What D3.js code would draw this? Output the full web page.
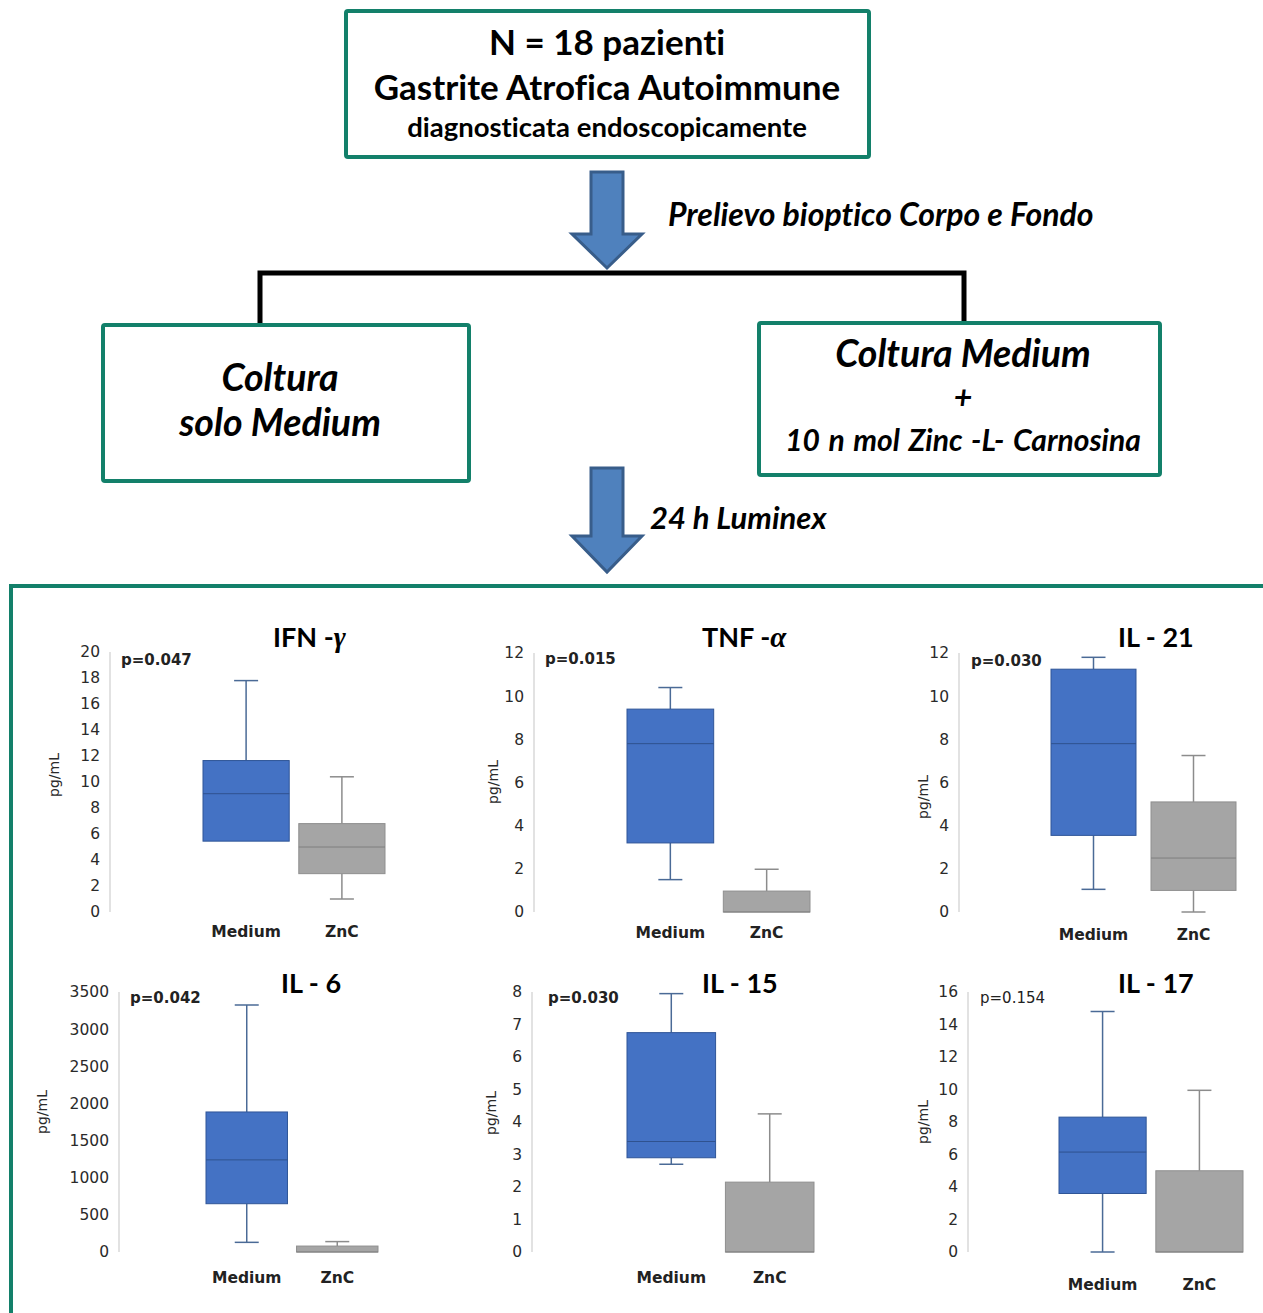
<!DOCTYPE html>
<html>
<head>
<meta charset="utf-8">
<script src="https://cdn.jsdelivr.net/npm/d3@7"></script>
<style>
  body { margin: 0; background: #fff; }
  svg { display: block; }
  text { font-variant-ligatures: none; font-feature-settings: "liga" 0, "clig" 0; }
</style>
</head>
<body>
<svg id="chart"></svg>
<script>
// Dati dei sei box plot
const titles = ["IFN -", "TNF -", "IL - 21", "IL - 6", "IL - 15", "IL - 17"];
const titleGreek = ["γ", "α", "", "", "", ""];
const pValues = ["p=0.047", "p=0.015", "p=0.030", "p=0.042", "p=0.030", "p=0.154"];
const pBold = [true, true, true, true, true, false];
const categories = ["Medium", "ZnC"];
const yMax = [20, 12, 12, 3500, 8, 16];
const yStep = [2, 2, 2, 500, 1, 2];
// [min, q1, mediana, q3, max]
const mediumStats = [
  [5.45, 5.45, 9.1, 11.65, 17.8],
  [1.5, 3.2, 7.8, 9.4, 10.4],
  [1.05, 3.55, 7.8, 11.25, 11.8],
  [130, 650, 1240, 1885, 3325],
  [2.7, 2.9, 3.4, 6.75, 7.95],
  [0, 3.6, 6.15, 8.3, 14.8]
];
const zncStats = [
  [1.0, 2.95, 5.0, 6.8, 10.4],
  [0, 0, 0, 0.97, 1.98],
  [0, 1.0, 2.5, 5.1, 7.25],
  [0, 0, 0, 80, 140],
  [0, 0, 0, 2.15, 4.25],
  [0, 0, 0, 5.0, 9.95]
];

// Posizione di ogni pannello nella pagina
const panels = [
  {ax: 110, y0: 912, y1: 652, bx: [203, 385], pad: 0.1, tx: 273, ty: 647, px: 121, py: 665, lx: 59, ly: 775, cy: 937},
  {ax: 534, y0: 912, y1: 653, bx: [627, 810], pad: 0.1, tx: 702, ty: 647, px: 545, py: 664, lx: 498, ly: 782, cy: 938},
  {ax: 959, y0: 912, y1: 653, bx: [1051, 1236], pad: 0.15, tx: 1118, ty: 647, px: 971, py: 666, lx: 928, ly: 797, cy: 940},
  {ax: 119, y0: 1252, y1: 992, bx: [206, 378], pad: 0.1, tx: 281, ty: 993, px: 130, py: 1003, lx: 47, ly: 1112, cy: 1283},
  {ax: 532, y0: 1252, y1: 992, bx: [627, 814], pad: 0.1, tx: 702, ty: 993, px: 548, py: 1003, lx: 496, ly: 1113, cy: 1283},
  {ax: 968, y0: 1252, y1: 992, bx: [1059, 1243], pad: 0.1, tx: 1118, ty: 993, px: 980, py: 1003, lx: 928, ly: 1122, cy: 1290}
];

const green = "#13806a";
const boxColors = {
  Medium: {fill: "#4472c4", stroke: "#2f5597", whisker: "#4a6a96", median: "#2f528f"},
  ZnC: {fill: "#a5a5a5", stroke: "#8f8f8f", whisker: "#8c8c8c", median: "#7f7f7f"}
};

const svg = d3.select("#chart")
  .attr("width", 1263)
  .attr("height", 1313);

const calibri = "Lato, 'Open Sans', sans-serif";

// ---- Diagramma di flusso ----
function greenBox(x, y, w, h) {
  svg.append("rect")
    .attr("x", x).attr("y", y).attr("width", w).attr("height", h)
    .attr("rx", 2)
    .attr("fill", "#fff")
    .attr("stroke", green)
    .attr("stroke-width", 4);
}

function label(x, y, txt, size, italic, wordSp) {
  svg.append("text")
    .attr("x", x).attr("y", y)
    .attr("text-anchor", "middle")
    .attr("font-family", calibri)
    .attr("font-weight", "bold")
    .attr("font-style", italic ? "italic" : "normal")
    .attr("font-size", size)
    .attr("word-spacing", wordSp || 0)
    .attr("fill", "#000")
    .text(txt);
}

function arrow(top, headY, tip) {
  const cx = 607;
  const pts = [[cx - 16, top], [cx + 16, top], [cx + 16, headY], [cx + 35, headY],
               [cx, tip], [cx - 35, headY], [cx - 16, headY]];
  svg.append("path")
    .attr("d", d3.line()(pts) + "Z")
    .attr("fill", "#4f81bd")
    .attr("stroke", "#385d8a")
    .attr("stroke-width", 3)
    .attr("stroke-linejoin", "miter");
}

greenBox(346, 11, 523, 146);
label(607, 55, "N = 18 pazienti", 35, false);
label(607, 100, "Gastrite Atrofica Autoimmune", 35, false);
label(607, 137, "diagnosticata endoscopicamente", 27.5, false);

arrow(172, 234, 268);
svg.append("text")
  .attr("x", 668).attr("y", 226)
  .attr("font-family", calibri).attr("font-weight", "bold").attr("font-style", "italic")
  .attr("font-size", 32)
  .text("Prelievo bioptico Corpo e Fondo");

// staffa nera
svg.append("path")
  .attr("d", "M260,325 V273 H964 V323")
  .attr("fill", "none")
  .attr("stroke", "#000")
  .attr("stroke-width", 5)
  .attr("stroke-linejoin", "miter");

greenBox(103, 325, 366, 156);
label(280, 391, "Coltura", 37.5, true);
label(280, 436, "solo Medium", 37.5, true);

greenBox(759, 323, 401, 152);
label(963, 367, "Coltura Medium", 37.5, true);
label(963, 409, "+", 32, true);
label(963, 451, "10 n mol Zinc -L- Carnosina", 30, true, 2);

arrow(468, 536, 572);
svg.append("text")
  .attr("x", 650).attr("y", 529)
  .attr("font-family", calibri).attr("font-weight", "bold").attr("font-style", "italic")
  .attr("font-size", 31)
  .text("24 h Luminex");

// riquadro grande dei grafici
svg.append("rect")
  .attr("x", 11).attr("y", 586).attr("width", 1300).attr("height", 800)
  .attr("fill", "none")
  .attr("stroke", green)
  .attr("stroke-width", 4);

// ---- Box plot ----
panels.forEach((p, i) => {
  const g = svg.append("g");

  const y = d3.scaleLinear().domain([0, yMax[i]]).range([p.y0, p.y1]);
  const x = d3.scaleBand().domain(categories).range(p.bx).paddingInner(p.pad);

  // linea dell'asse
  g.append("line")
    .attr("x1", p.ax).attr("x2", p.ax)
    .attr("y1", p.y0).attr("y2", p.y1)
    .attr("stroke", "#d9d9d9").attr("stroke-width", 1.5);

  const axis = g.append("g")
    .attr("transform", `translate(${p.ax},0)`)
    .call(d3.axisLeft(y).tickValues(d3.range(0, yMax[i] + yStep[i] / 2, yStep[i]))
      .tickSize(0).tickPadding(10).tickFormat(d3.format("d")));
  axis.select(".domain").remove();
  axis.selectAll("text")
    .attr("font-family", "'DejaVu Sans', sans-serif")
    .attr("font-size", 15.5)
    .attr("fill", "#2a2a2a");

  // titolo unità
  g.append("text")
    .attr("transform", `translate(${p.lx},${p.ly}) rotate(-90)`)
    .attr("text-anchor", "middle")
    .attr("font-family", "'DejaVu Sans', sans-serif")
    .attr("font-size", 14)
    .attr("fill", "#2a2a2a")
    .text("pg/mL");

  // titolo del grafico
  const t = g.append("text")
    .attr("x", p.tx).attr("y", p.ty)
    .attr("font-family", calibri)
    .attr("font-weight", "bold")
    .attr("font-size", 27)
    .attr("fill", "#000")
    .text(titles[i]);
  if (titleGreek[i]) {
    t.append("tspan")
      .attr("font-family", "'Liberation Serif', serif")
      .attr("font-style", "italic")
      .attr("font-size", 29)
      .text(titleGreek[i]);
  }

  // p-value
  g.append("text")
    .attr("x", p.px).attr("y", p.py)
    .attr("font-family", "'DejaVu Sans', sans-serif")
    .attr("font-weight", pBold[i] ? "bold" : "normal")
    .attr("font-size", 15)
    .attr("fill", "#222")
    .text(pValues[i]);

  const stats = {Medium: mediumStats[i], ZnC: zncStats[i]};

  categories.forEach(cat => {
    const [mn, q1, med, q3, mx] = stats[cat];
    const c = boxColors[cat];
    const cx = x(cat) + x.bandwidth() / 2;

    // baffi
    [[q3, mx], [q1, mn]].forEach(([from, to]) => {
      if (from === to) return;
      g.append("line")
        .attr("x1", cx).attr("x2", cx)
        .attr("y1", y(from)).attr("y2", y(to))
        .attr("stroke", c.whisker).attr("stroke-width", 1.5);
      g.append("line")
        .attr("x1", cx - 12).attr("x2", cx + 12)
        .attr("y1", y(to)).attr("y2", y(to))
        .attr("stroke", c.whisker).attr("stroke-width", 1.5);
    });

    // scatola
    g.append("rect")
      .attr("x", x(cat))
      .attr("y", y(q3))
      .attr("width", x.bandwidth())
      .attr("height", y(q1) - y(q3))
      .attr("fill", c.fill)
      .attr("stroke", c.stroke)
      .attr("stroke-width", 1);

    // mediana
    g.append("line")
      .attr("x1", x(cat)).attr("x2", x(cat) + x.bandwidth())
      .attr("y1", y(med)).attr("y2", y(med))
      .attr("stroke", c.median).attr("stroke-width", 1);

    // etichetta categoria
    g.append("text")
      .attr("x", cx).attr("y", p.cy)
      .attr("text-anchor", "middle")
      .attr("font-family", "'DejaVu Sans', sans-serif")
      .attr("font-weight", "bold")
      .attr("font-size", 15.5)
      .attr("fill", "#222")
      .text(cat);
  });
});
</script>
</body>
</html>
